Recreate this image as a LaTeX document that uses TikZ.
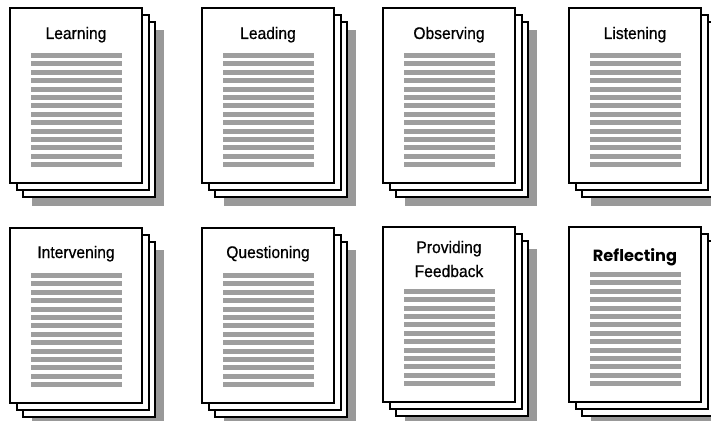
\documentclass[tikz,border=0pt]{standalone}
\usepackage{fontspec}
\setmainfont{Liberation Sans}[FakeStretch=0.93,FakeBold=0.6]
\newfontfamily\geofont{Poppins}[BoldFont={* Bold}]
\usepackage{tikz}
\usetikzlibrary{positioning}
\definecolor{shadowgray}{RGB}{153,153,153}
\definecolor{bargray}{RGB}{158,158,158}
\newcommand{\pagestack}[6]{%
  \begin{scope}[shift={(#2,#3)}]
    \fill[shadowgray] (22,22) rectangle (154,198);
    \fill[white] (13,14) rectangle (145,189);
    \draw[pageedge] (13,14) rectangle (145,189);
    \fill[white] (7,7) rectangle (139,182);
    \draw[pageedge] (7,7) rectangle (139,182);
    \fill[white] (0,0) rectangle (132,175);
    \draw[pageedge] (0,0) rectangle (132,175);
    \foreach \k in {#5,...,13}{%
      \fill[bargray] (20.5,{45+8.4*\k}) rectangle (111.5,{50+8.4*\k});}
    \node[pagetitle] (#1) at (66,#6) {#4};
  \end{scope}}
\tikzset{
  pageedge/.style={black,line width=1.1pt},
  pagetitle/.style={anchor=base,align=center,inner sep=0pt,
                    font=\fontsize{16.8}{24}\selectfont}}

\begin{document}
\begin{tikzpicture}[x=1pt,y=-1pt]
\useasboundingbox (0,0) rectangle (711,420);
\clip (0,0) rectangle (711,420);

\pagestack{learn}{10}{8}{Learning}{0}{31}
\pagestack{lead}{202}{8}{Leading}{0}{31}
\pagestack{observe}{383}{8}{Observing}{0}{31}
\pagestack{listen}{569}{8}{Listening}{0}{31}

\pagestack{intervene}{10}{228}{Intervening}{0}{30}
\pagestack{question}{202}{228}{Questioning}{0}{30}
\pagestack{feedback}{383}{227}{Providing\\Feedback}{2}{50}
\pagestack{reflect}{569}{227}%
  {{\geofont\bfseries\fontsize{16.2}{18}\selectfont Reflecting}}{0}{34.5}
\end{tikzpicture}
\end{document}
